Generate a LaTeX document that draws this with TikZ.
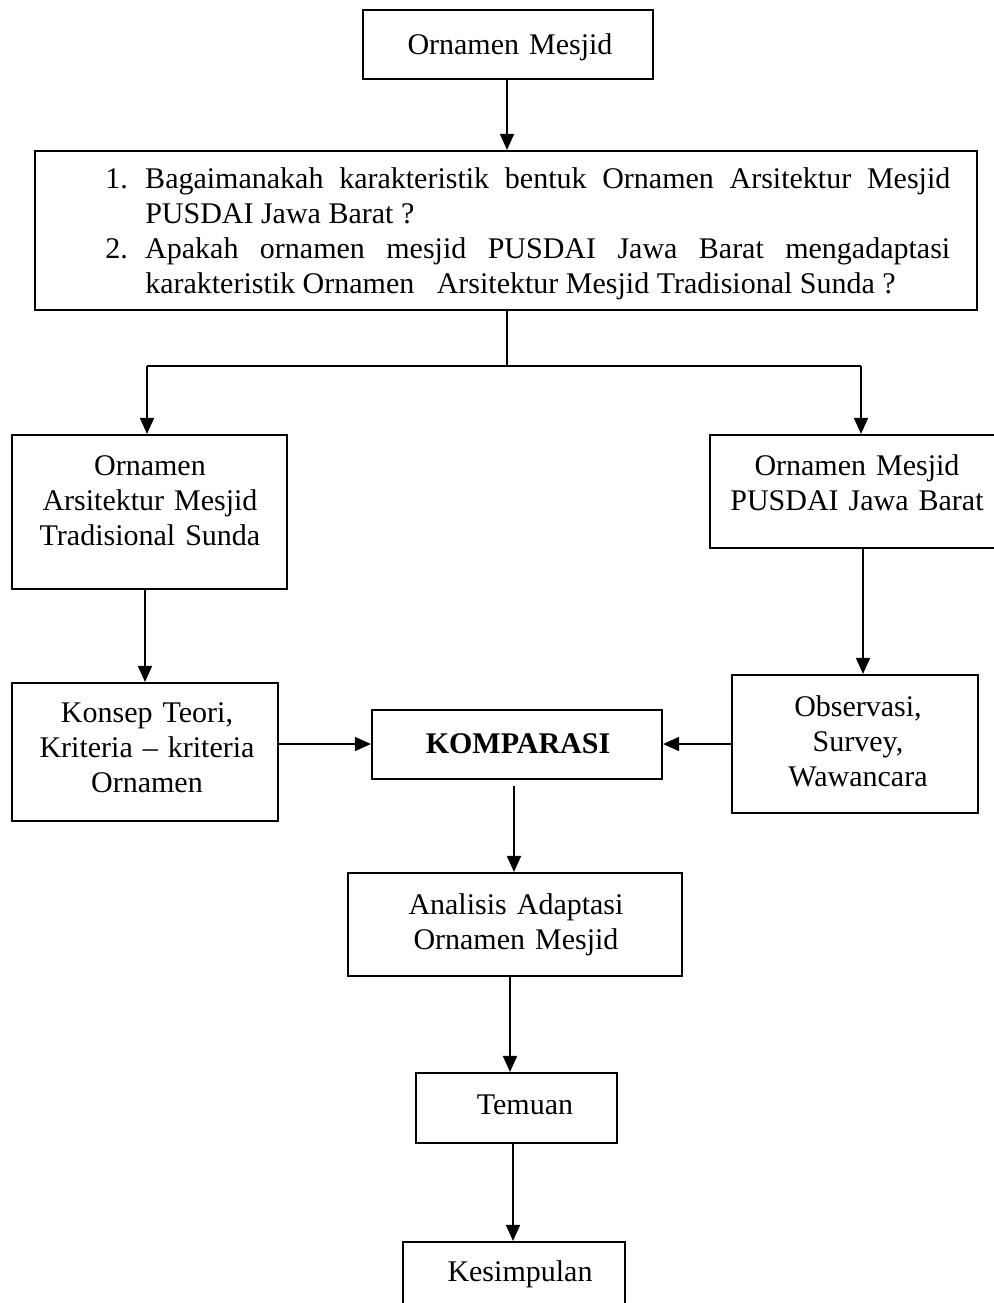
\documentclass[tikz,border=0pt]{standalone}
\usepackage{fontspec}
\setmainfont{Liberation Serif}
\usetikzlibrary{arrows.meta,fit}
\begin{document}
\begin{tikzpicture}[x=0.75pt,y=-0.75pt,
  bx/.style={draw,line width=1.6pt,inner sep=0pt},
  txt/.style={font=\fontsize{22.5pt}{26.25pt}\selectfont,inner sep=0pt,align=center,text width=#1,anchor=base},
  arr/.style={line width=1.3pt,-{Triangle[length=12pt,width=10.5pt]}},
  ln/.style={line width=1.3pt}]
\useasboundingbox (0,0) rectangle (994,1303);
\clip (0,0) rectangle (994,1303);
\fill[white] (0,0) rectangle (994,1303);

% boxes
\node[bx,fit={(363,10) (653,79)}] (top) {};
\node[txt=210pt] (ttop) at (510,54) {Ornamen Mesjid};

\node[bx,fit={(35,151) (977,310)}] (q) {};
\node[anchor=base west,inner sep=0pt,text width=603.75pt,align=justify,
      font=\fontsize{22.5pt}{26.25pt}\selectfont] (tq) at (145,188)
 {\noindent\llap{1.\hspace{13pt}}Bagaimanakah karakteristik bentuk Ornamen Arsitektur Mesjid\linebreak
  PUSDAI Jawa Barat ?\par
  \noindent\llap{2.\hspace{13pt}}Apakah ornamen mesjid PUSDAI Jawa Barat mengadaptasi\linebreak
  karakteristik Ornamen\ \ \ Arsitektur Mesjid Tradisional Sunda ?};

\node[bx,fit={(12,435) (287,589)}] (lb) {};
\node[txt=240pt] (tlb) at (150,475) {Ornamen\\Arsitektur Mesjid\\Tradisional Sunda};

\node[bx,fit={(710,435) (1005,548)}] (rb) {};
\node[txt=260pt] (trb) at (857,475) {Ornamen Mesjid\\PUSDAI Jawa Barat};

\node[bx,fit={(12,683) (278,821)}] (kb) {};
\node[txt=240pt] (tkb) at (147,722) {Konsep Teori,\\Kriteria -- kriteria\\Ornamen};

\node[bx,fit={(732,675) (978,813)}] (ob) {};
\node[txt=220pt] (tob) at (858,716) {Observasi,\\Survey,\\Wawancara};

\node[bx,fit={(372,710) (662,779)}] (km) {};
\node[txt=240pt] (tkm) at (518,753) {\bfseries KOMPARASI};

\node[bx,fit={(348,873) (682,976)}] (an) {};
\node[txt=280pt] (tan) at (516,914) {Analisis Adaptasi\\Ornamen Mesjid};

\node[bx,fit={(416,1073) (617,1143)}] (tm) {};
\node[txt=160pt] (ttm) at (525,1114) {Temuan};

\node[bx,fit={(403,1242) (625,1330)}] (ks) {};
\node[txt=180pt] (tks) at (520,1281) {Kesimpulan};

% connectors
\coordinate (x0) at (507,0);
\draw[arr] (top.south -| x0) -- (q.north -| x0);

\coordinate (j) at (507,366);
\coordinate (jl) at (147,366);
\coordinate (jr) at (861,366);
\draw[ln] (q.south -| j) -- (j);
\draw[ln] (jl) -- (jr);
\draw[arr] (jl) -- (jl |- lb.north);
\draw[arr] (jr) -- (jr |- rb.north);

\coordinate (xl) at (145,0);
\draw[arr] (lb.south -| xl) -- (kb.north -| xl);
\coordinate (xr) at (863,0);
\draw[arr] (rb.south -| xr) -- (ob.north -| xr);

\coordinate (yk) at (0,744);
\draw[arr] (kb.east |- yk) -- (km.west |- yk);
\draw[arr] (ob.west |- yk) -- (km.east |- yk);

\coordinate (xk) at (514,0);
\draw[arr] ([yshift=-4.5pt]km.south -| xk) -- (an.north -| xk);
\coordinate (xa) at (510,0);
\draw[arr] (an.south -| xa) -- (tm.north -| xa);
\coordinate (xt) at (513,0);
\draw[arr] (tm.south -| xt) -- (ks.north -| xt);
\end{tikzpicture}
\end{document}
